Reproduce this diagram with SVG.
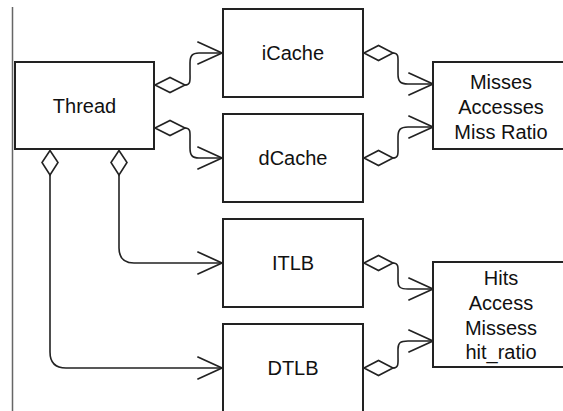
<svg xmlns="http://www.w3.org/2000/svg" width="563" height="411" viewBox="0 0 563 411">
  <style>
    .box { fill: #ffffff; stroke: #222222; stroke-width: 2; }
    .lbl { font-family: "Liberation Sans", Arial, sans-serif; font-size: 20px; fill: #111111; text-anchor: middle; }
    .edge { fill: none; stroke: #222222; stroke-width: 1.6; marker-end: url(#open-arrow); }
    .dia { fill: #ffffff; stroke: #222222; stroke-width: 1.6; stroke-linejoin: miter; }
  </style>
  <defs>
    <marker id="open-arrow" markerUnits="userSpaceOnUse" markerWidth="30" markerHeight="30"
            viewBox="-26 -13 28 26" refX="0" refY="0" orient="auto" overflow="visible">
      <path d="M-23,-10.5 L0,0 L-23,10.5" fill="none" stroke="#222222" stroke-width="1.6"/>
    </marker>
  </defs>

  <rect width="563" height="411" fill="#ffffff"/>
  <!-- margin rule -->
  <line x1="12.5" y1="7" x2="12.5" y2="411" stroke="#666666" stroke-width="1.5"/>

  <g id="connectors">
    <!-- Thread -> iCache -->
    <path class="edge" d="M185,85 C191,85 190,80 190,73 L190,63 C190,56 192,53 199,53 L222,53"/>
    <!-- Thread -> dCache -->
    <path class="edge" d="M185,128 C191,128 190,133 190,140 L190,148 C190,155 192,158 199,158 L222,158"/>
    <!-- Thread -> ITLB -->
    <path class="edge" d="M119,175 L119,248 Q119,263 134,263 L222,263"/>
    <!-- Thread -> DTLB -->
    <path class="edge" d="M50,175 L50,352 Q50,368 66,368 L222,368"/>
    <!-- iCache -> cache stats -->
    <path class="edge" d="M393,53 C399,53 398,58 398,65 L398,74 C398,81 400,84 408,84 L433,84"/>
    <!-- dCache -> cache stats -->
    <path class="edge" d="M393,158 C399,158 398,153 398,146 L398,137 C398,130 400,127 408,127 L433,127"/>
    <!-- ITLB -> TLB stats -->
    <path class="edge" d="M393,263 C399,263 398,268 398,275 L398,281 C398,287 400,289 408,289 L433,289"/>
    <!-- DTLB -> TLB stats -->
    <path class="edge" d="M393,368 C399,368 398,363 398,356 L398,349 C398,343 400,341 408,341 L433,341"/>

    <!-- aggregation diamonds -->
    <polygon class="dia" points="155,85 170,77.5 185,85 170,92.5"/>
    <polygon class="dia" points="155,128 170,120.5 185,128 170,135.5"/>
    <polygon class="dia" points="50,150.5 58,162.5 50,175 42,162.5"/>
    <polygon class="dia" points="119,150.5 127,162.5 119,175 111,162.5"/>
    <polygon class="dia" points="364,53 378.5,45.5 393,53 378.5,60.5"/>
    <polygon class="dia" points="364,158 378.5,150.5 393,158 378.5,165.5"/>
    <polygon class="dia" points="364,263 378.5,255.5 393,263 378.5,270.5"/>
    <polygon class="dia" points="364,368 378.5,360.5 393,368 378.5,375.5"/>
  </g>

  <g id="thread">
    <rect class="box" x="15" y="62" width="139" height="87"/>
    <text class="lbl" x="84.5" y="113">Thread</text>
  </g>
  <g id="icache">
    <rect class="box" x="223" y="9" width="140" height="88"/>
    <text class="lbl" x="293" y="60">iCache</text>
  </g>
  <g id="dcache">
    <rect class="box" x="223" y="114" width="140" height="88"/>
    <text class="lbl" x="293" y="165">dCache</text>
  </g>
  <g id="itlb">
    <rect class="box" x="223" y="219" width="140" height="88"/>
    <text class="lbl" x="293" y="270">ITLB</text>
  </g>
  <g id="dtlb">
    <rect class="box" x="223" y="324" width="140" height="88"/>
    <text class="lbl" x="293" y="375">DTLB</text>
  </g>
  <g id="cache-stats">
    <rect class="box" x="433" y="62" width="136" height="87"/>
    <text class="lbl" x="501" y="89">Misses</text>
    <text class="lbl" x="501" y="114">Accesses</text>
    <text class="lbl" x="501" y="139">Miss Ratio</text>
  </g>
  <g id="tlb-stats">
    <rect class="box" x="433" y="262" width="136" height="105"/>
    <text class="lbl" x="501" y="285">Hits</text>
    <text class="lbl" x="501" y="310">Access</text>
    <text class="lbl" x="501" y="335">Missess</text>
    <text class="lbl" x="501" y="359">hit_ratio</text>
  </g>
</svg>
